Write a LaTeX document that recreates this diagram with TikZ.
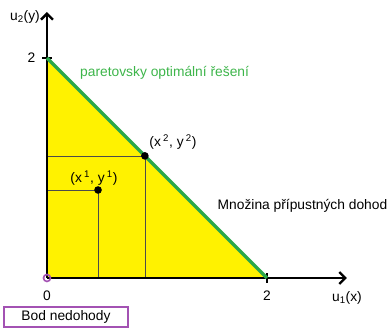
\documentclass[tikz,border=0pt]{standalone}
\usepackage{fontspec}
\setmainfont{Liberation Sans}
\usetikzlibrary{arrows.meta, positioning, calc}
\definecolor{feasyellow}{HTML}{FFF200}
\definecolor{paretogreen}{HTML}{2AA84A}
\definecolor{labelgreen}{HTML}{3DB54A}
\definecolor{bodpurple}{HTML}{A352B3}

\begin{document}
\begin{tikzpicture}[x=110pt, y=110pt, >={Straight Barb[length=6pt, width=12pt]},
    font=\fontsize{13.8}{15}\selectfont]
  \useasboundingbox (-0.427,-0.455) rectangle (3.109,2.527);
  % feasible set
  \coordinate (O) at (0,0);
  \coordinate (A) at (2,0);
  \coordinate (B) at (0,2);
  \fill[feasyellow] (O) -- (A) -- (B) -- cycle;

  % agreements
  \coordinate (P1) at (0.464,0.80);
  \coordinate (P2) at (0.89,1.11);
  \draw[black!70, line width=0.7pt] (P1 -| O) -- (P1) -- (P1 |- O);
  \draw[black!70, line width=0.7pt] (P2 -| O) -- (P2) -- (P2 |- O);

  % axes
  \coordinate (xend) at (2.727,0);
  \coordinate (yend) at (0,2.418);
  \draw[->, line width=2.4pt] (O) -- (xend);
  \draw[->, line width=2.4pt] (O) -- (yend);
  \draw[line width=1.5pt] ($(A)+(0,-0.045)$) -- ($(A)+(0,0.045)$);
  \draw[line width=1.5pt] ($(B)+(-0.045,0)$) -- ($(B)+(0.045,0)$);
  \node (xlab) at (2.727,-0.18) {u\textsubscript{1}(x)};
  \node (ylab) at (-0.2,2.37) {u\textsubscript{2}(y)};
  \node (two x) at (2,-0.164) {2};
  \node (two y) at (-0.14,2) {2};
  \node (zero) at (0,-0.164) {0};

  % pareto front
  \draw[paretogreen, line width=3.5pt] (B) -- (A);
  \node[labelgreen, anchor=west] (pareto) at (0.27,1.864) {paretovsky optimální řešení};
  \node[anchor=west] (mnozina) at (1.52,0.655) {Množina přípustných dohod};

  \fill (P1) circle (3.8pt);
  \fill (P2) circle (3.8pt);
  \node (p1lab) at (0.427,0.909) {(x\,\textsuperscript{1}, y\,\textsuperscript{1})};
  \node (p2lab) at (1.145,1.236) {(x\,\textsuperscript{2}, y\,\textsuperscript{2})};

  % disagreement point
  \draw[bodpurple, line width=1.6pt] (O) circle (3.5pt);
  \node[draw=bodpurple, line width=1.8pt, inner sep=2pt, minimum width=124pt,
        minimum height=20pt] (bod) at (0.173,-0.355) {Bod nedohody};
\end{tikzpicture}
\end{document}
